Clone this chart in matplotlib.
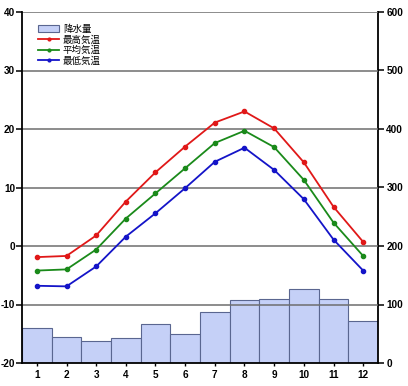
import matplotlib
matplotlib.use("Agg")
import matplotlib.pyplot as plt
from matplotlib.patches import Patch
from matplotlib.lines import Line2D

plt.rcParams["axes.unicode_minus"] = False

months = [1, 2, 3, 4, 5, 6, 7, 8, 9, 10, 11, 12]
month_labels = [str(m) for m in months]
precip = [60, 44, 38, 42, 67, 49, 87, 107, 110, 127, 109, 71]
t_high = [-1.9, -1.7, 1.8, 7.6, 12.6, 17.0, 21.1, 23.0, 20.1, 14.3, 6.7, 0.7]
t_mean = [-4.2, -4.0, -0.6, 4.7, 9.0, 13.3, 17.6, 19.7, 16.9, 11.3, 4.0, -1.7]
t_low = [-6.8, -6.9, -3.5, 1.6, 5.6, 9.9, 14.4, 16.8, 13.0, 8.0, 1.1, -4.2]

left_ticks = [-20, -10, 0, 10, 20, 30, 40]
right_ticks = [0, 100, 200, 300, 400, 500, 600]

fig = plt.figure(figsize=(4.08, 3.86), dpi=100)
ax = fig.add_axes([22/408, 23/386, 356/408, 351/386])
ax2 = ax.twinx()
ax.set_zorder(2)
ax2.set_zorder(1)
ax.patch.set_visible(False)

bar_face = "#c5d0f7"
bar_edge = "#5a6690"
ax2.bar(months, precip, width=1.0, color=bar_face, edgecolor=bar_edge, linewidth=0.8)
ax2.set_ylim(0, 600)
ax2.set_yticks(right_ticks)

ax.set_xlim(0.5, 12.5)
ax.set_ylim(-20, 40)
ax.set_yticks(left_ticks)
ax.set_yticklabels([str(t) for t in left_ticks])
ax.set_xticks(months)
ax.set_xticklabels(month_labels)

for y in left_ticks[1:]:
    ax.axhline(y, color="#6e6e6e", linewidth=1.1, zorder=1)

red, green, blue = "#e01818", "#1a8a1a", "#1414c8"
ax.plot(months, t_high, color=red, marker="o", markersize=3, linewidth=1.3, zorder=5)
ax.plot(months, t_mean, color=green, marker="o", markersize=3, linewidth=1.3, zorder=5)
ax.plot(months, t_low, color=blue, marker="o", markersize=3, linewidth=1.3, zorder=5)

for a in (ax, ax2):
    for s in a.spines.values():
        s.set_visible(False)
ax.spines["left"].set_visible(True)
ax.spines["bottom"].set_visible(True)
ax2.spines["right"].set_visible(True)
ax.spines["left"].set_linewidth(1.3)
ax.spines["bottom"].set_linewidth(1.3)
ax2.spines["right"].set_linewidth(1.3)

ax.tick_params(axis="y", direction="out", length=4, width=1.1, pad=1)
ax.tick_params(axis="x", direction="out", length=2, width=1.0, pad=3)
ax2.tick_params(axis="y", direction="out", length=4, width=1.1, pad=2)
for lab in ax.get_yticklabels() + ax.get_xticklabels() + ax2.get_yticklabels():
    lab.set_fontsize(7.2)
    lab.set_fontweight("bold")
    lab.set_family("Liberation Sans")

handles = [
    Patch(facecolor=bar_face, edgecolor=bar_edge, linewidth=0.8),
    Line2D([], [], color=red, marker="o", markersize=2, linewidth=1.3),
    Line2D([], [], color=green, marker="o", markersize=2, linewidth=1.3),
    Line2D([], [], color=blue, marker="o", markersize=2, linewidth=1.3),
]
labels = ["降水量", "最高気温", "平均気温", "最低気温"]
leg = ax.legend(handles, labels, loc="upper left", bbox_to_anchor=(0.03, 0.98),
                frameon=False, prop={"family": ["Noto Sans CJK JP", "DejaVu Sans"], "size": 6.8},
                handlelength=2.2, handleheight=0.8, labelspacing=0.12, handletextpad=0.4,
                borderaxespad=0.2)

fig.savefig("out.png", dpi=100)
